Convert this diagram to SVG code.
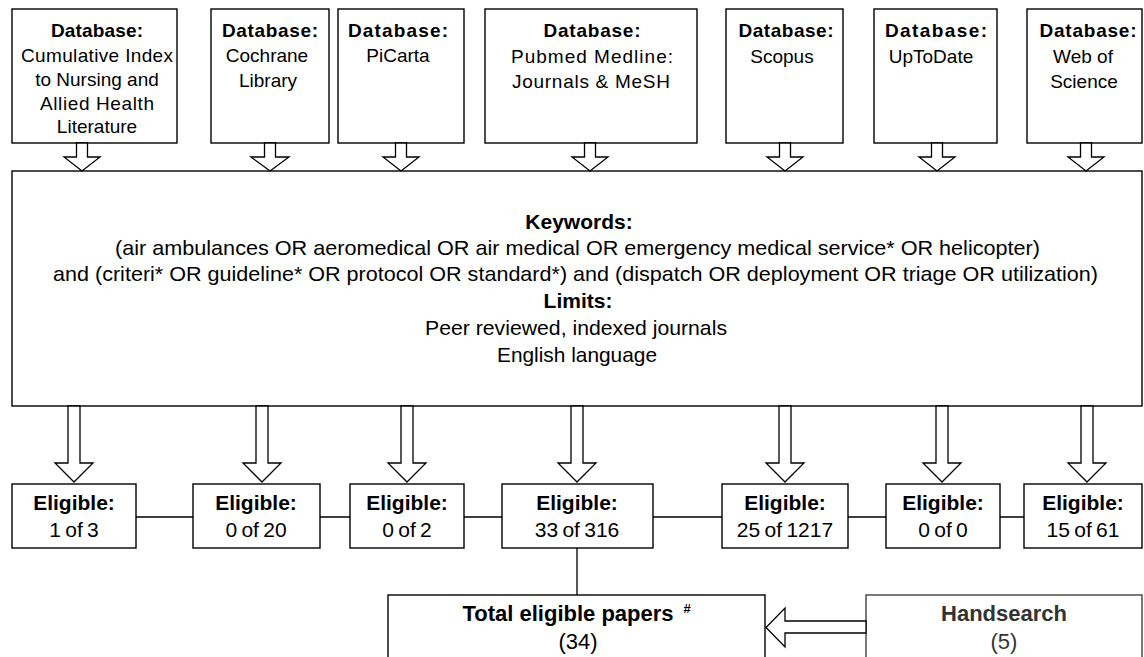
<svg xmlns="http://www.w3.org/2000/svg" width="1144" height="657" viewBox="0 0 1144 657">
<style>
.box{fill:#fff;stroke:#000;stroke-width:1.4}
.arr{fill:#fff;stroke:#000;stroke-width:1.3;stroke-linejoin:miter}
.ln{stroke:#000;stroke-width:1.3;fill:none}
text{font-family:"Liberation Sans",Arial,sans-serif;fill:#000;text-anchor:middle}
.db{font-size:19px}
.b{font-weight:bold}
.mid{font-size:21px}
.el{font-size:21px}
.num{word-spacing:-1.5px}
.tot{font-size:22px}
.gray{fill:#333}
</style>
<rect width="1144" height="657" fill="#fff"/>

<g id="db-cinahl">
<rect class="box" x="12" y="9" width="165" height="134"/>
<text class="db b" x="97" y="37" textLength="92">Database:</text>
<text class="db" x="97" y="62" textLength="152">Cumulative Index</text>
<text class="db" x="97" y="86">to Nursing and</text>
<text class="db" x="97" y="110" textLength="114">Allied Health</text>
<text class="db" x="97" y="133">Literature</text>
</g>
<g id="db-cochrane">
<rect class="box" x="211" y="9" width="118" height="134"/>
<text class="db b" x="270" y="37" textLength="96">Database:</text>
<text class="db" x="267" y="62">Cochrane</text>
<text class="db" x="268" y="87">Library</text>
</g>
<g id="db-picarta">
<rect class="box" x="338" y="9" width="126" height="134"/>
<text class="db b" x="398" y="37" textLength="100">Database:</text>
<text class="db" x="398" y="62">PiCarta</text>
</g>
<g id="db-pubmed">
<rect class="box" x="485" y="9" width="212" height="134"/>
<text class="db b" x="592" y="37" textLength="97">Database:</text>
<text class="db" x="592" y="63" textLength="162">Pubmed Medline:</text>
<text class="db" x="591" y="88" textLength="158">Journals &amp; MeSH</text>
</g>
<g id="db-scopus">
<rect class="box" x="726" y="9" width="117" height="134"/>
<text class="db b" x="786" y="37" textLength="95">Database:</text>
<text class="db" x="782" y="63">Scopus</text>
</g>
<g id="db-uptodate">
<rect class="box" x="874" y="9" width="123" height="134"/>
<text class="db b" x="936" y="37" textLength="102">Database:</text>
<text class="db" x="931" y="63">UpToDate</text>
</g>
<g id="db-wos">
<rect class="box" x="1027" y="9" width="115" height="134"/>
<text class="db b" x="1088" y="37" textLength="97">Database:</text>
<text class="db" x="1083" y="63">Web of</text>
<text class="db" x="1084" y="88">Science</text>
</g>

<g id="search">
<rect class="box" x="12" y="171" width="1130" height="235"/>
<text class="mid b" x="579" y="229">Keywords:</text>
<text class="mid" x="577.5" y="255" textLength="925" lengthAdjust="spacingAndGlyphs">(air ambulances OR aeromedical OR air medical OR emergency medical service* OR helicopter)</text>
<text class="mid" x="575.5" y="281" textLength="1045" lengthAdjust="spacingAndGlyphs">and (criteri* OR guideline* OR protocol OR standard*) and (dispatch OR deployment OR triage OR utilization)</text>
<text class="mid b" x="578" y="308">Limits:</text>
<text class="mid" x="576" y="335" textLength="302" lengthAdjust="spacingAndGlyphs">Peer reviewed, indexed journals</text>
<text class="mid" x="577" y="362" textLength="160" lengthAdjust="spacingAndGlyphs">English language</text>
</g>

<g id="el-1">
<rect class="box" x="12" y="484" width="124" height="64"/>
<text class="el b" x="74" y="510">Eligible:</text>
<text class="el num" x="74" y="537">1 of 3</text>
</g>
<g id="el-2">
<rect class="box" x="193" y="484" width="127" height="64"/>
<text class="el b" x="256" y="510">Eligible:</text>
<text class="el num" x="256" y="537">0 of 20</text>
</g>
<g id="el-3">
<rect class="box" x="350" y="484" width="114" height="64"/>
<text class="el b" x="407" y="510">Eligible:</text>
<text class="el num" x="407" y="537">0 of 2</text>
</g>
<g id="el-4">
<rect class="box" x="502" y="484" width="151" height="64"/>
<text class="el b" x="577" y="510">Eligible:</text>
<text class="el num" x="577" y="537">33 of 316</text>
</g>
<g id="el-5">
<rect class="box" x="722" y="484" width="126" height="64"/>
<text class="el b" x="785" y="510">Eligible:</text>
<text class="el num" x="785" y="537">25 of 1217</text>
</g>
<g id="el-6">
<rect class="box" x="886" y="484" width="114" height="64"/>
<text class="el b" x="943" y="510">Eligible:</text>
<text class="el num" x="943" y="537">0 of 0</text>
</g>
<g id="el-7">
<rect class="box" x="1024" y="484" width="118" height="64"/>
<text class="el b" x="1083" y="510">Eligible:</text>
<text class="el num" x="1083" y="537">15 of 61</text>
</g>

<g id="total">
<rect class="box" x="388" y="595" width="377" height="80"/>
<text class="tot b" x="568" y="621">Total eligible papers</text>
<text x="687" y="613" style="font-size:13px;font-weight:bold">#</text>
<text class="tot" x="578" y="649">(34)</text>
</g>
<g id="handsearch">
<rect class="box" x="866" y="595" width="276" height="80" style="stroke:#404040"/>
<text class="tot b gray" x="1004" y="621">Handsearch</text>
<text class="tot gray" x="1004" y="649">(5)</text>
</g>

<g id="connectors">
<polygon class="arr" points="76.5,143 87.5,143 87.5,157 100,157 82,171 64,157 76.5,157"/>
<polygon class="arr" points="264.5,143 275.5,143 275.5,157 289,157 270,171 251,157 264.5,157"/>
<polygon class="arr" points="395.5,143 406.5,143 406.5,157 419,157 401,171 383,157 395.5,157"/>
<polygon class="arr" points="584.5,143 595.5,143 595.5,157 608,157 590,171 572,157 584.5,157"/>
<polygon class="arr" points="779.5,143 790.5,143 790.5,157 803,157 785,171 767,157 779.5,157"/>
<polygon class="arr" points="931.5,143 942.5,143 942.5,157 955,157 937,171 919,157 931.5,157"/>
<polygon class="arr" points="1080.5,143 1091.5,143 1091.5,157 1104,157 1086,171 1068,157 1080.5,157"/>

<polygon class="arr" points="68,406 80,406 80,463 93,463 74,482 55,463 68,463"/>
<polygon class="arr" points="256,406 268,406 268,463 281,463 262,482 243,463 256,463"/>
<polygon class="arr" points="401,406 413,406 413,463 426,463 407,482 388,463 401,463"/>
<polygon class="arr" points="571,406 583,406 583,463 596,463 577,482 558,463 571,463"/>
<polygon class="arr" points="779,406 791,406 791,463 804,463 785,482 766,463 779,463"/>
<polygon class="arr" points="936,406 948,406 948,463 961,463 942,482 923,463 936,463"/>
<polygon class="arr" points="1081,406 1093,406 1093,463 1106,463 1087,482 1068,463 1081,463"/>

<path class="ln" d="M136,517H193M320,517H350M464,517H502M653,517H722M848,517H886M1000,517H1024M577,548V595"/>
<polygon class="arr" points="866,621 785,621 785,608 766,627.5 785,647 785,633 866,633"/>
</g>
</svg>
